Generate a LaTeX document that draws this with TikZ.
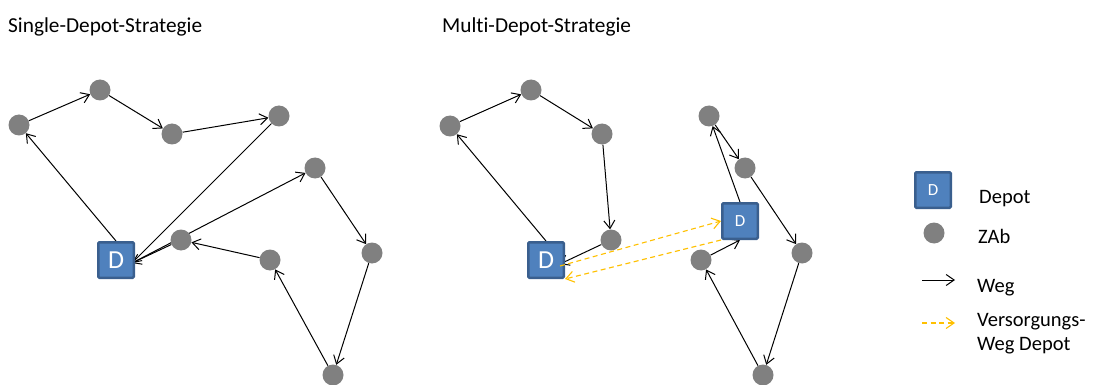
\documentclass[tikz,border=0pt]{standalone}
\usepackage{fontspec}
\setmainfont{Carlito}[Ligatures={NoCommon}]
\usetikzlibrary{arrows.meta}
\definecolor{depotfill}{HTML}{4F81BD}
\definecolor{depotdraw}{HTML}{3A5F8E}
\definecolor{zabgray}{HTML}{808080}
\definecolor{supply}{HTML}{FFC000}
\pgfdeclarelayer{bg}
\pgfsetlayers{bg,main}
\begin{document}
\begin{tikzpicture}[x=1pt,y=-1pt,
  depotbox/.style={draw=depotdraw, fill=depotfill, line width=2.5pt, minimum size=35.5pt,
    inner sep=0pt, rounded corners=1.2pt, text=white, font=\fontsize{26}{30}\selectfont},
  depotsmall/.style={depotbox, font=\fontsize{17}{20}\selectfont},
  zab/.style={circle, fill=zabgray, minimum size=21pt, inner sep=0pt},
  weg/.style={line width=1pt, -{Straight Barb[length=8pt,width=11pt,line width=1pt]}},
  supplyway/.style={draw=supply, line width=1.1pt, dash pattern=on 5pt off 3.5pt,
    -{Straight Barb[length=8pt,width=11pt,line width=1.1pt]}},
  titletext/.style={anchor=base west, inner sep=0pt, font=\fontsize{21.3}{25}\selectfont},
  legtext/.style={anchor=base west, inner sep=0pt, align=left, font=\fontsize{20.5}{23.5}\selectfont}
]
\useasboundingbox (0,0) rectangle (1095,385);

% titles
\node[titletext] (t1) at (8,33) {Single-Depot-Strategie};
\node[titletext] (t2) at (442,33) {Multi-Depot-Strategie};

% ---------- left: single depot ----------
\node[depotbox] (D) at (116,260) {D};
\node[zab] (n1) at (19,125) {};
\node[zab] (n2) at (100,90) {};
\node[zab] (n3) at (172,134) {};
\node[zab] (n4) at (279,116) {};
\node[zab] (n5) at (315,168) {};
\node[zab] (n6) at (372,253) {};
\node[zab] (n7) at (333,375) {};
\node[zab] (n8) at (270,260) {};
\node[zab] (n9) at (181,240) {};
\coordinate (Din) at ([shift={(-3pt,-3pt)}]D.east);

\begin{pgfonlayer}{bg}
\draw[weg] (D.north) -- (n1);
\draw[weg] (n1) -- (n2);
\draw[weg] (n2) -- (n3);
\draw[weg] (n3) -- (n4);
\draw[weg] (n4) -- (Din);
\draw[weg] (Din) -- (n5);
\draw[weg] (n5) -- (n6);
\draw[weg] (n6) -- (n7);
\draw[weg] (n7) -- (n8);
\draw[weg] (n8) -- (n9);
\draw[weg] (n9) -- (Din);
\end{pgfonlayer}

% ---------- right: multi depot ----------
\node[depotbox] (D1) at (546,260) {D};
\node[depotsmall] (D2) at (740,221) {D};
\node[zab] (m1) at (450,126) {};
\node[zab] (m2) at (531,90) {};
\node[zab] (m3) at (602,134) {};
\node[zab] (m4) at (611,240) {};
\node[zab] (m5) at (709,116) {};
\node[zab] (m6) at (745,168) {};
\node[zab] (m7) at (802,253) {};
\node[zab] (m8) at (763,375) {};
\node[zab] (m9) at (701,260) {};
\coordinate (D1in) at ([shift={(-5pt,-4pt)}]D1.east);
\coordinate (D1out) at ([shift={(-5pt,-6pt)}]D1.east);

\begin{pgfonlayer}{bg}
\draw[weg] (D1.north) -- (m1);
\draw[weg] (m1) -- (m2);
\draw[weg] (m2) -- (m3);
\draw[weg] (m3) -- (m4);
\draw[weg] (m4) -- (D1in);
\draw[weg] (D2.north) -- (m5);
\draw[weg] (m5) -- (m6);
\draw[weg] (m6) -- (m7);
\draw[weg] (m7) -- (m8);
\draw[weg] (m8) -- (m9);
\draw[weg] (m9) -- (D2.south);
\end{pgfonlayer}
\draw[supplyway] (D1out) -- (D2.west);
\draw[supplyway] (D2.south west) -- (D1.south east);

% ---------- legend ----------
\node[depotsmall] (LD) at (933,190) {D};
\node[legtext] (LDt) at (979,203) {Depot};
\node[zab] (LZ) at (934,233) {};
\node[legtext] (LZt) at (978,243) {ZAb};
\coordinate (LW1) at (922,280);
\coordinate (LW2) at (955,280);
\draw[weg] (LW1) -- (LW2);
\node[legtext] (LWt) at (977,292) {Weg};
\coordinate (LV1) at (922,323);
\coordinate (LV2) at (955,323);
\draw[supplyway] (LV1) -- (LV2);
\node[legtext] (LVt) at (977,350) {Versorgungs-\\Weg Depot};
\end{tikzpicture}
\end{document}
